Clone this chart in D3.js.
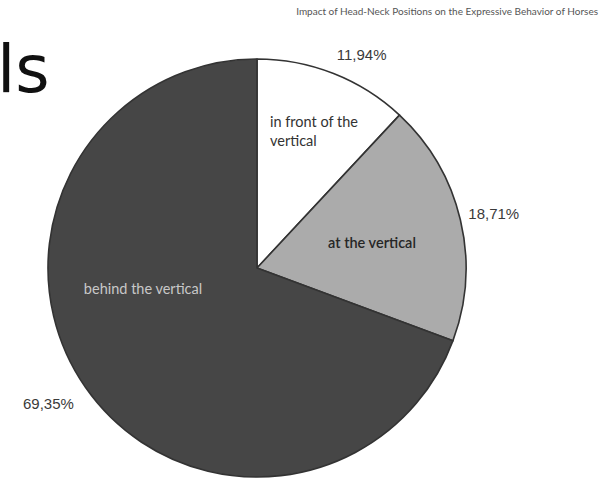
<!DOCTYPE html>
<html><head><meta charset="utf-8">
<script src="https://cdn.jsdelivr.net/npm/d3@7"></script>
<style>body{margin:0;background:#fff}</style>
</head><body>
<svg id="c" width="612" height="480"></svg>
<script>
const categories = ["in front of the vertical", "at the vertical", "behind the vertical"];
const values = [11.94, 18.71, 69.35];
const valueLabels = ["11,94%", "18,71%", "69,35%"];
const catLines = [["in front of the", "vertical"], ["at the vertical"], ["behind the vertical"]];
const title = "Impact of Head-Neck Positions on the Expressive Behavior of Horses";

const svg = d3.select("#c");
const cx = 257, cy = 268, R = 209;
const colors = d3.scaleOrdinal().domain(categories).range(["#ffffff", "#ababab", "#464646"]);
const textColors = d3.scaleOrdinal().domain(categories).range(["#333333", "#262626", "#c8c8c8"]);

svg.append("text").attr("x", 598).attr("y", 15).attr("text-anchor", "end")
  .attr("font-family", "Lato, sans-serif").attr("font-size", 10).attr("fill", "#555").text(title);
svg.append("text").attr("x", -3).attr("y", 92)
  .attr("font-family", "DejaVu Sans, sans-serif").attr("font-size", 66).attr("fill", "#111").text("ls");

const pie = d3.pie().sort(null).value(d => d.v);
const data = categories.map((c, i) => ({c, v: values[i], i}));
const arcs = pie(data);
const arc = d3.arc().innerRadius(0).outerRadius(R);
const g = svg.append("g").attr("transform", `translate(${cx},${cy})`);
g.selectAll("path").data(arcs).join("path")
  .attr("d", arc).attr("fill", d => colors(d.data.c))
  .attr("stroke", "#333").attr("stroke-width", 1.6).attr("stroke-linejoin", "round");

// category labels inside slices
const inPos = [[13, -141, "start"], [115, -20, "middle"], [-114, 26, "middle"]];
arcs.forEach((a, i) => {
  const t = g.append("text").attr("x", inPos[i][0]).attr("y", inPos[i][1])
    .attr("text-anchor", inPos[i][2]).attr("font-family", "Lato, sans-serif")
    .attr("font-size", 14.5).attr("font-weight", i === 1 ? 600 : 400).attr("fill", textColors(a.data.c));
  catLines[i].forEach((ln, k) => t.append("tspan").attr("x", inPos[i][0]).attr("dy", k ? 19 : 0).text(ln));
});

// value labels outside
const outArc = d3.arc().innerRadius(R + 22).outerRadius(R + 22);
const outAdj = [[20, 3], [12, 0], [-19, 5]];
arcs.forEach((a, i) => {
  const [x, y] = outArc.centroid(a);
  g.append("text").attr("x", x + outAdj[i][0]).attr("y", y + outAdj[i][1]).attr("text-anchor", "middle")
    .attr("dominant-baseline", "middle")
    .attr("font-family", "Liberation Sans, Arial, sans-serif").attr("font-size", 15).attr("fill", "#3a3a3a")
    .text(valueLabels[i]);
});
</script>
</body></html>
